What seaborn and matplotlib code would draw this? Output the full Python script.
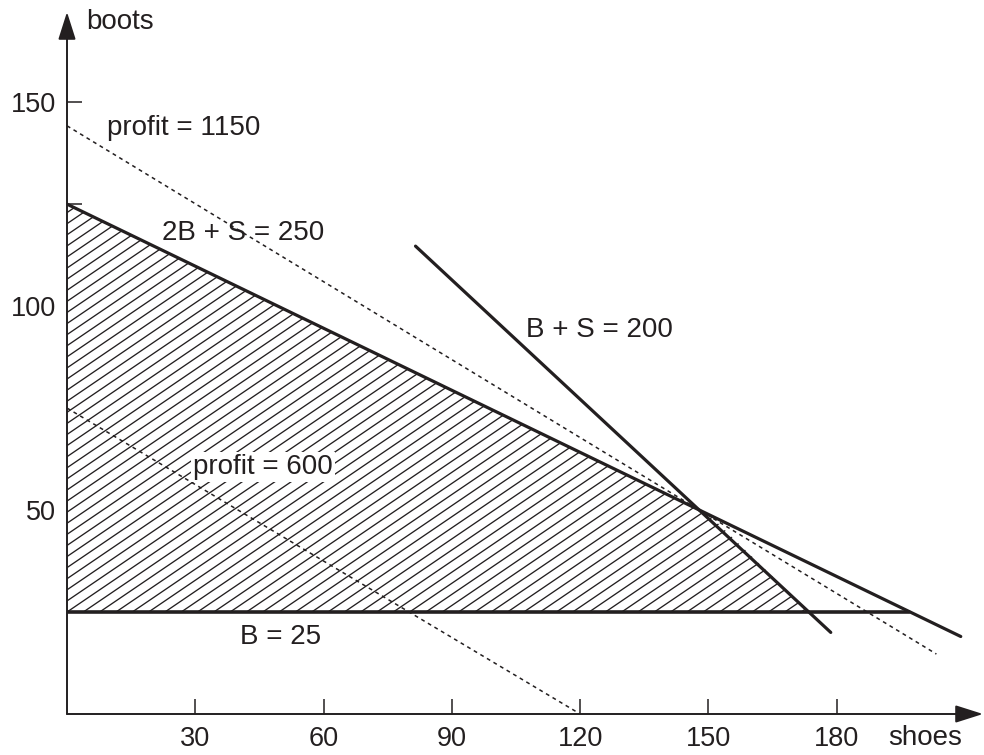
import numpy as np
import matplotlib
matplotlib.use("Agg")
import matplotlib.pyplot as plt
from matplotlib.collections import LineCollection
import seaborn as sns

# ---- data ----
x_ticks = [30, 60, 90, 120, 150, 180]
x_tick_labels = ["30", "60", "90", "120", "150", "180"]
y_ticks = [50, 75, 100, 125, 150]
y_tick_labels = ["50", "", "100", "", "150"]

# constraint / objective lines (shoes S, boots B)
line_2bs_S = [0, 209]          # 2B + S = 250
line_2bs_B = [125, 19]
line_bs_S = [81.5, 178.6]      # B + S = 200
line_bs_B = [114.7, 20]
line_b25_S = [0, 197]          # B = 25
line_b25_B = [25, 25]
profit1150_S = [0, 203.3]      # profit = 1150
profit1150_B = [144.2, 14.7]
profit600_S = [0, 120]         # profit = 600
profit600_B = [75, 0]

# feasible region vertices
region_S = [0, 0, 150, 173.5]
region_B = [25, 125, 49, 25]

INK = "#231f20"

sns.set_theme(style="white")
plt.rcParams["font.family"] = ["Liberation Sans", "DejaVu Sans"]

fig = plt.figure(figsize=(9.84, 7.55), dpi=100)
ax = fig.add_axes([67 / 984, 41 / 755, 916 / 984, 702 / 755])
ax.set_xlim(0, 214.2)
ax.set_ylim(0, 172.1)
for s in ax.spines.values():
    s.set_visible(False)

# hatched feasible region
poly = ax.fill(region_S, region_B, facecolor="white", edgecolor="none", zorder=1)[0]
m = 0.713
step = 2.72
cs = np.arange(25 - step * 80, 130, step)
segs = [[(0, c), (214, c + m * 214)] for c in cs]
lc = LineCollection(segs, colors=INK, linewidths=0.95, zorder=2)
lc.set_clip_path(poly)
ax.add_collection(lc)

# lines
solid_kw = dict(color=INK, linewidth=2.3, estimator=None, sort=False, ax=ax, zorder=4)
sns.lineplot(x=line_2bs_S, y=line_2bs_B, **solid_kw)
sns.lineplot(x=line_bs_S, y=line_bs_B, **solid_kw)
sns.lineplot(x=line_b25_S, y=line_b25_B, color=INK, linewidth=2.6,
             estimator=None, sort=False, ax=ax, zorder=4)
dot_kw = dict(color=INK, linewidth=1.1, linestyle=(0, (2.5, 2.5)),
              estimator=None, sort=False, ax=ax, zorder=3)
sns.lineplot(x=profit1150_S, y=profit1150_B, **dot_kw)
sns.lineplot(x=profit600_S, y=profit600_B, **dot_kw)

# axes with arrows
arrow = dict(arrowstyle="-|>,head_length=17,head_width=5.4", color=INK, lw=1.4,
             shrinkA=0, shrinkB=0, mutation_scale=1)
ax.annotate("", xy=(1, 0), xytext=(0, 0), xycoords="axes fraction",
            textcoords="axes fraction", arrowprops=arrow, annotation_clip=False, zorder=5)
ax.annotate("", xy=(0, 1), xytext=(0, 0), xycoords="axes fraction",
            textcoords="axes fraction", arrowprops=arrow, annotation_clip=False, zorder=5)

# ticks
ax.set_xticks(x_ticks)
ax.set_xticklabels(x_tick_labels)
ax.set_yticks(y_ticks)
ax.set_yticklabels(y_tick_labels)
ax.tick_params(axis="both", direction="in", length=11, width=1.1, color=INK,
               labelcolor=INK, labelsize=19.5, bottom=True, left=True)
ax.tick_params(axis="x", pad=9)
ax.tick_params(axis="y", pad=8)
ax.grid(False)

# labels
fs = 20
ax.text(4.4, 169.6, "boots", fontsize=fs, color=INK, ha="left", va="center")
ax.text(192, -5.9, "shoes", fontsize=fs, color=INK, ha="left", va="center", clip_on=False)
ax.text(9.35, 143.6, "profit = 1150", fontsize=fs, color=INK, ha="left", va="center", zorder=6)
ax.text(22.2, 117.9, "2B + S = 250", fontsize=fs, color=INK, ha="left", va="center", zorder=2.5)
ax.text(107.4, 94.1, "B + S = 200", fontsize=fs, color=INK, ha="left", va="center", zorder=6)
ax.text(29.5, 60.5, "profit = 600", fontsize=fs, color=INK, ha="left", va="center", zorder=6,
        bbox=dict(facecolor="white", edgecolor="none", pad=1.5))
ax.text(40.4, 18.9, "B = 25", fontsize=fs, color=INK, ha="left", va="center", zorder=6)

fig.savefig("out.png", dpi=100)
